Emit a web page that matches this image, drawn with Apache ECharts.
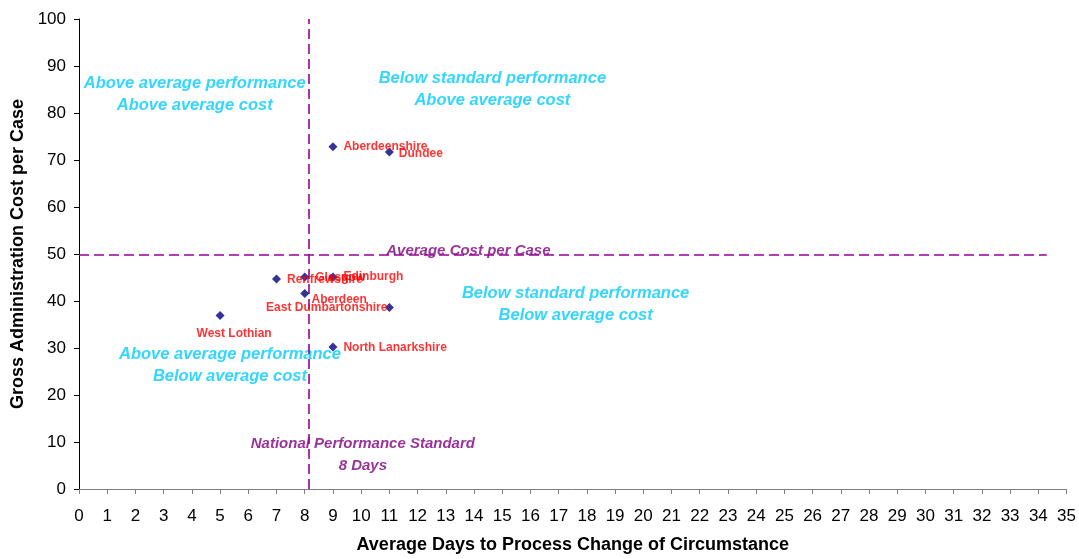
<!DOCTYPE html>
<html>
<head>
<meta charset="utf-8">
<script src="https://cdn.jsdelivr.net/npm/echarts@6/dist/echarts.min.js"></script>
<style>html,body{margin:0;padding:0;background:#fff}#c{width:1079px;height:559px}</style>
</head>
<body>
<div id="c"></div>
<script>
// ---- data ----
const authorities = ['West Lothian','Renfrewshire','Glasgow','Edinburgh','East Dumbartonshire','Aberdeen','Aberdeenshire','Dundee','North Lanarkshire'];
const avgDays = [5, 7, 8, 9, 8, 11, 9, 11, 9];
const costPerCase = [36.9, 44.7, 45.1, 45.1, 41.6, 38.6, 72.8, 71.7, 30.2];
const nationalStandard = 8.15;
const averageCost = 49.9;
const xTicks = [0, 35, 1];
const yTicks = [0, 100, 10];

// annotation texts
const quadrantTexts = [
  'Above average performance\nAbove average cost',
  'Below standard performance\nAbove average cost',
  'Below standard performance\nBelow average cost',
  'Above average performance\nBelow average cost'
];
const quadrantX = [4.1, 14.65, 17.6, 5.35];
const quadrantY = [84, 85, 39.2, 26.2];
const refTexts = ['Average Cost per Case', 'National Performance Standard\n8 Days'];
const refX = [13.8, 10.06];
const refY = [50.6, 7.2];

// per-point label placement
const labelPlacement = {
  'West Lothian': {position: 'bottom', distance: 6, offset: [14, 2]},
  'Renfrewshire': {position: 'right', distance: 6, offset: [0, 1]},
  'Glasgow': {position: 'right', distance: 6, offset: [0, 1]},
  'Edinburgh': {position: 'right', distance: 6, offset: [0, 0]},
  'East Dumbartonshire': {position: 'bottom', distance: 4, offset: [22, 0]},
  'Aberdeen': {position: 'left', distance: 18, offset: [0, -8]},
  'Aberdeenshire': {position: 'right', distance: 6, offset: [0, 0]},
  'Dundee': {position: 'right', distance: 5, offset: [0, 2]},
  'North Lanarkshire': {position: 'right', distance: 6, offset: [0, 1]}
};

const FONT = '"Liberation Sans", Arial, sans-serif';
const pts = authorities.map((n, i) => ({
  name: n,
  value: [avgDays[i], costPerCase[i]],
  label: labelPlacement[n]
}));

const hidden = {color: 'rgba(255,255,255,0)'};

const chart = echarts.init(document.getElementById('c'));
chart.setOption({
  animation: false,
  grid: {left: 79, right: 12, top: 19, bottom: 66, containLabel: false},
  xAxis: {
    type: 'value', min: xTicks[0], max: xTicks[1], interval: xTicks[2],
    name: 'Average Days to Process Change of Circumstance',
    nameLocation: 'middle', nameGap: 47,
    nameTextStyle: {fontFamily: FONT, fontWeight: 'bold', fontSize: 18, color: '#000'},
    axisLine: {lineStyle: {color: '#808080', width: 1}},
    axisTick: {show: true, inside: false, length: 5, lineStyle: {color: '#808080'}},
    axisLabel: {fontFamily: FONT, fontSize: 17, color: '#000', margin: 19},
    splitLine: {show: false}
  },
  yAxis: {
    type: 'value', min: yTicks[0], max: yTicks[1], interval: yTicks[2],
    name: 'Gross Administration Cost per Case',
    nameLocation: 'middle', nameGap: 50,
    nameTextStyle: {fontFamily: FONT, fontWeight: 'bold', fontSize: 18, color: '#000'},
    axisLine: {show: true, lineStyle: {color: '#000', width: 1}},
    axisTick: {show: true, inside: false, length: 5, lineStyle: {color: '#000'}},
    axisLabel: {fontFamily: FONT, fontSize: 17, color: '#000', margin: 13},
    splitLine: {show: false}
  },
  series: [
    {
      type: 'scatter',
      symbol: 'diamond',
      symbolSize: 9,
      itemStyle: {color: '#000080'},
      data: pts,
      label: {
        show: true, formatter: '{b}',
        fontFamily: FONT, fontWeight: 'bold', fontSize: 12, color: '#FF0000'
      },
      markLine: {
        silent: true, symbol: 'none',
        label: {show: false},
        lineStyle: {color: '#990099', type: [10, 5], width: 1.6, opacity: 1},
        data: [
          {xAxis: nationalStandard},
          [{coord: [0, averageCost]}, {coord: [34.3, averageCost]}]
        ]
      },
      z: 5
    },
    {
      type: 'scatter', symbol: 'circle', symbolSize: 2, silent: true,
      itemStyle: hidden,
      data: quadrantTexts.map((t, i) => ({name: t, value: [quadrantX[i], quadrantY[i]]})),
      label: {
        show: true, position: 'inside', formatter: '{b}',
        fontFamily: FONT, fontWeight: 'bold', fontStyle: 'italic', fontSize: 16.5,
        color: '#00CCFF', lineHeight: 22, align: 'center', verticalAlign: 'middle'
      },
      labelLayout: {hideOverlap: false},
      z: 3
    },
    {
      type: 'scatter', symbol: 'circle', symbolSize: 2, silent: true,
      itemStyle: hidden,
      data: refTexts.map((t, i) => ({name: t, value: [refX[i], refY[i]]})),
      label: {
        show: true, position: 'inside', formatter: '{b}',
        fontFamily: FONT, fontWeight: 'bold', fontStyle: 'italic', fontSize: 15,
        color: '#800080', lineHeight: 22, align: 'center', verticalAlign: 'middle'
      },
      labelLayout: {hideOverlap: false},
      z: 3
    }
  ]
});
</script>
</body>
</html>
